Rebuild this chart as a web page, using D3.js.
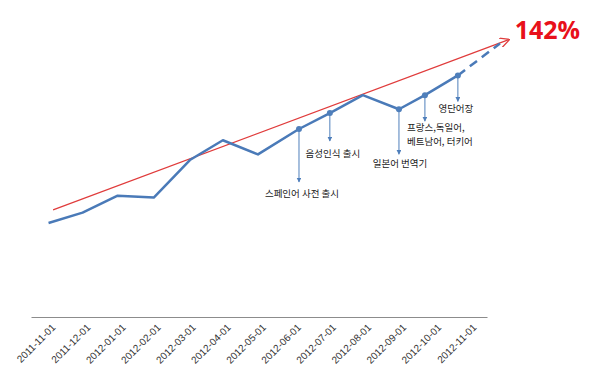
<!DOCTYPE html>
<html>
<head>
<meta charset="utf-8">
<script src="https://cdn.jsdelivr.net/npm/d3@7"></script>
<style>
  body { margin: 0; background: #fff; }
  .axis text { font-family: "Liberation Sans", Arial, sans-serif; font-size: 10px; fill: #333; }
  .axis path { stroke: #8c8c8c; }
  .note { font-family: "Noto Sans CJK KR", sans-serif; font-size: 9.5px; fill: #222; }
</style>
</head>
<body>
<div id="chart"></div>
<script>
// months on the category axis
var months = ["2011-11-01", "2011-12-01", "2012-01-01", "2012-02-01", "2012-03-01",
  "2012-04-01", "2012-05-01", "2012-06-01", "2012-07-01", "2012-08-01",
  "2012-09-01", "2012-10-01", "2012-11-01"];

// measured series (position in months, relative value)
var seriesPos = [0, 0.97, 1.97, 3, 4.03, 4.97, 5.97, 7.14, 8.02, 8.96, 9.99, 10.73, 11.67];
var seriesVal = [100, 111, 129, 127, 167, 188, 173, 200, 217, 236, 221, 236, 257];

// dashed projection after the last point
var projPos = [11.67, 12.87];
var projVal = [257, 291];

// red trend arrow
var trendPos = [0.13, 13.12];
var trendVal = [114, 295];
var trendLabel = "142%";

// events (index into the series)
var eventIdx = [7, 8, 10, 11, 12];
var eventText = [["스페인어 사전 출시"], ["음성인식 출시"], ["일본어 번역기"],
  ["프랑스,독일어,", "베트남어, 터키어"], ["영단어장"]];

var width = 600, height = 377;

var svg = d3.select("#chart").append("svg")
  .attr("width", width)
  .attr("height", height);

var defs = svg.append("defs");
defs.append("marker")
  .attr("id", "blueHead")
  .attr("viewBox", "0 0 10 10")
  .attr("refX", 9).attr("refY", 5)
  .attr("markerWidth", 5).attr("markerHeight", 5)
  .attr("markerUnits", "userSpaceOnUse")
  .attr("orient", "auto")
  .append("path")
  .attr("d", "M0,0L10,5L0,10Z")
  .attr("fill", "#4f7fbb");
defs.append("marker")
  .attr("id", "redHead")
  .attr("viewBox", "0 0 10 10")
  .attr("refX", 9).attr("refY", 5)
  .attr("markerWidth", 10).attr("markerHeight", 10)
  .attr("markerUnits", "userSpaceOnUse")
  .attr("orient", "auto")
  .append("path")
  .attr("d", "M0,0L10,5L0,10")
  .attr("fill", "none")
  .attr("stroke", "#e03c3c")
  .attr("stroke-width", 1.3);

// scales
var xScale = d3.scaleLinear()
  .domain([-0.5, months.length - 0.5])
  .range([31, 487]);
var yScale = d3.scaleLinear()
  .domain([0, 300])
  .range([317, 35]);

// x axis
var xAxis = d3.axisBottom(xScale)
  .tickValues(d3.range(months.length))
  .tickFormat(function(d) { return months[d]; })
  .tickSize(0)
  .tickSizeOuter(0);

var xAxisGroup = svg.append("g")
  .attr("class", "axis")
  .attr("transform", "translate(0,317)")
  .call(xAxis);
xAxisGroup.select(".domain").attr("stroke-width", 1.2);
xAxisGroup.selectAll("text")
  .attr("text-anchor", "end")
  .attr("dx", "0")
  .attr("dy", "0")
  .attr("transform", "translate(5,9) rotate(-45)");

// red trend line
svg.append("line")
  .attr("x1", xScale(trendPos[0]))
  .attr("y1", yScale(trendVal[0]))
  .attr("x2", xScale(trendPos[1]))
  .attr("y2", yScale(trendVal[1]))
  .attr("stroke", "#e03c3c")
  .attr("stroke-width", 1.3)
  .attr("marker-end", "url(#redHead)");

svg.append("text")
  .attr("x", xScale(trendPos[1]) + 6)
  .attr("y", yScale(trendVal[1]) - 1)
  .attr("font-family", "'Open Sans', 'DejaVu Sans', sans-serif")
  .attr("font-weight", "bold")
  .attr("font-size", "25px")
  .attr("fill", "#e8101a")
  .text(trendLabel);

// main series
var points = seriesPos.map(function(p, i) { return {pos: p, val: seriesVal[i]}; });
var line = d3.line()
  .x(function(d) { return xScale(d.pos); })
  .y(function(d) { return yScale(d.val); });

svg.append("path")
  .datum(points)
  .attr("d", line)
  .attr("fill", "none")
  .attr("stroke", "#4a7ab8")
  .attr("stroke-width", 2.5)
  .attr("stroke-linejoin", "round");

var proj = projPos.map(function(p, i) { return {pos: p, val: projVal[i]}; });
svg.append("path")
  .datum(proj)
  .attr("d", line)
  .attr("fill", "none")
  .attr("stroke", "#4a7ab8")
  .attr("stroke-width", 2.5)
  .attr("stroke-dasharray", "9,6");

// event arrows + labels
var arrowLen = [53, 28, 45, 26, 26];
var textDy = [15, 16, 13, 10, 11];
var textAnchor = ["middle", "middle", "middle", "start", "middle"];
var textDx = [3, 3, 1, -18, -2];

eventIdx.forEach(function(idx, i) {
  var x = xScale(seriesPos[idx]);
  var y = yScale(seriesVal[idx]);
  svg.append("line")
    .attr("x1", x).attr("y1", y)
    .attr("x2", x).attr("y2", y + arrowLen[i])
    .attr("stroke", "#4f7fbb")
    .attr("stroke-width", 1)
    .attr("marker-end", "url(#blueHead)");
  svg.append("circle")
    .attr("cx", x).attr("cy", y)
    .attr("r", 3)
    .attr("fill", "#4f7fbb");
  eventText[i].forEach(function(s, j) {
    svg.append("text")
      .attr("class", "note")
      .attr("text-anchor", textAnchor[i])
      .attr("x", x + textDx[i])
      .attr("y", y + arrowLen[i] + textDy[i] + j * 14)
      .text(s);
  });
});
</script>
</body>
</html>
